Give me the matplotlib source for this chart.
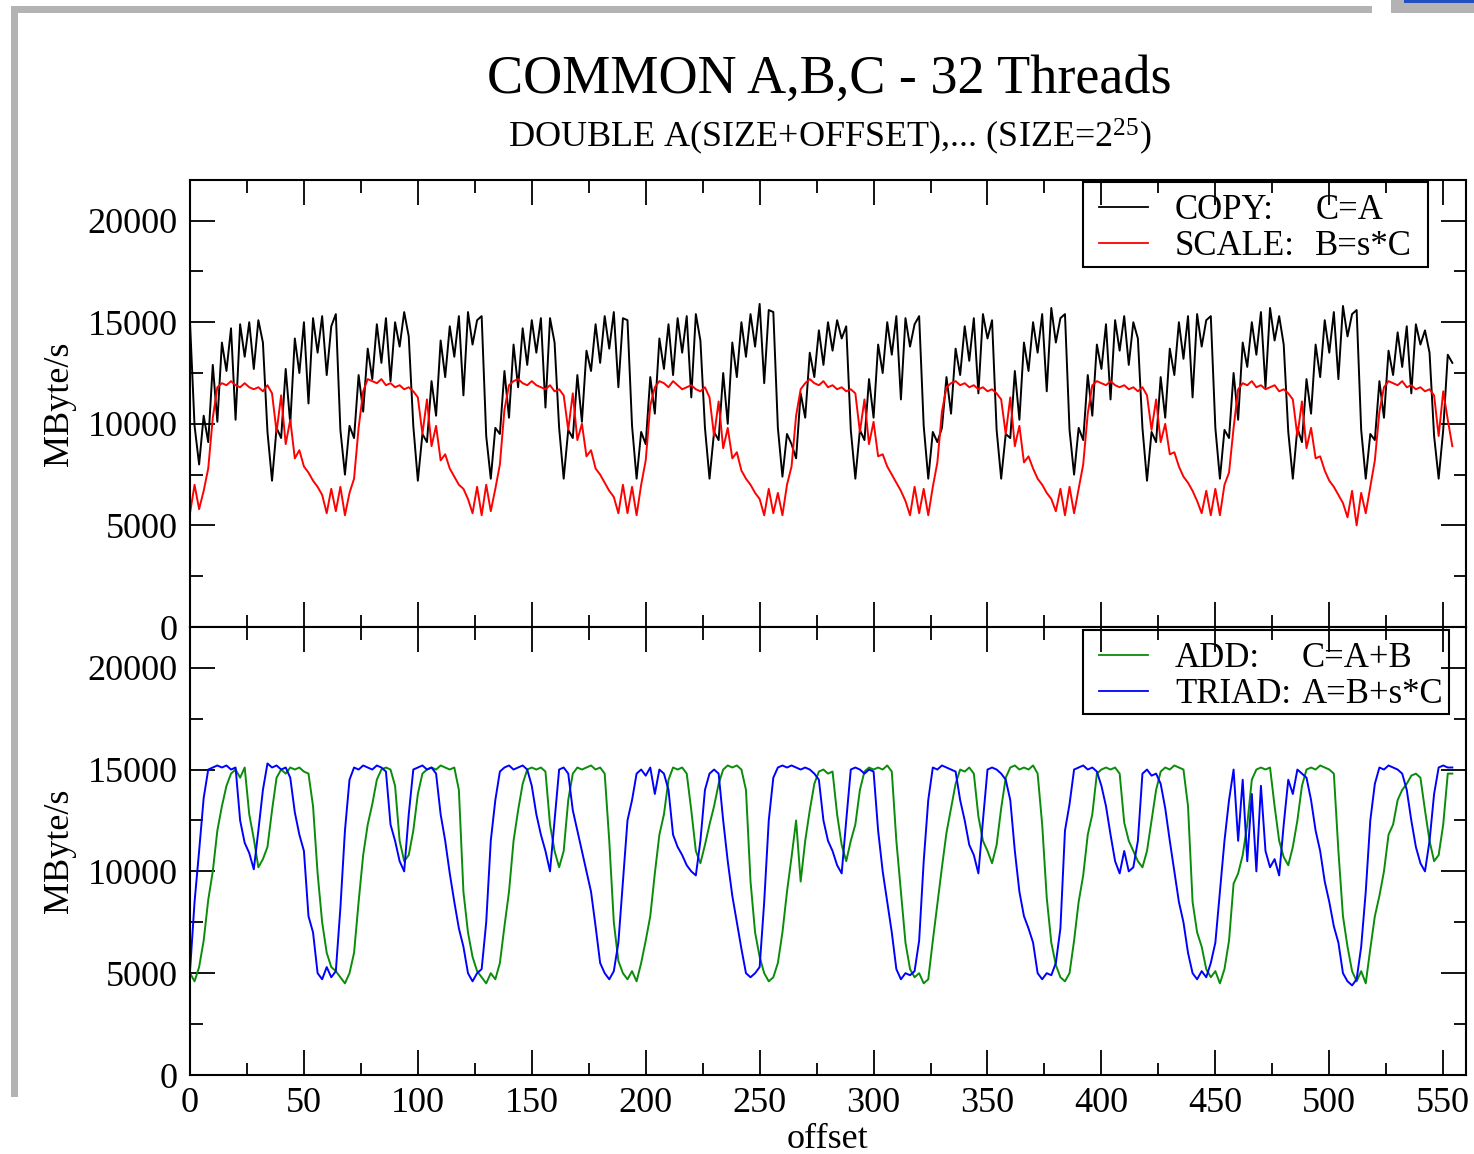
import matplotlib
matplotlib.use("Agg")
import matplotlib.pyplot as plt
from matplotlib.patches import Rectangle
from matplotlib.lines import Line2D
from matplotlib.ticker import MultipleLocator

plt.rcParams['font.family'] = ['Liberation Serif', 'DejaVu Serif']
plt.rcParams['mathtext.fontset'] = 'custom'
plt.rcParams['mathtext.rm'] = 'Liberation Serif'
plt.rcParams['mathtext.default'] = 'rm'

# bandwidth (MByte/s) at every second offset, one row per 64 offsets
offset = list(range(0, 556, 2))

copy_mbs = [
    15000, 9900, 8000, 10400, 9100, 12900, 10100, 14000, 12600, 14700, 10200, 14900, 13300, 15000, 12700, 15100,
    14000, 9600, 7200, 9800, 9300, 12700, 10000, 14200, 12500, 15000, 11000, 15200, 13500, 15300, 12400, 14800,
    15400, 9700, 7500, 9900, 9300, 12400, 10600, 13700, 12200, 14900, 13000, 15200, 12100, 15000, 13800, 15500,
    14300, 9900, 7200, 9500, 9100, 12100, 10400, 14100, 12300, 14800, 13300, 15300, 11400, 15500, 13900, 15100,
    15300, 9400, 7300, 9800, 9500, 12600, 10300, 13900, 11800, 14700, 12900, 15100, 13500, 15200, 10800, 15200,
    14000, 9800, 7300, 9700, 9300, 12400, 10100, 13600, 12600, 14900, 13000, 15300, 13700, 15500, 11800, 15200,
    15100, 9900, 7300, 9600, 9000, 12300, 10500, 14200, 12700, 14900, 12400, 15200, 13500, 15300, 11300, 15400,
    14100, 9800, 7300, 9600, 9200, 12500, 10000, 14000, 12300, 15000, 13300, 15400, 13800, 15900, 12000, 15600,
    15500, 9800, 7400, 9500, 9000, 8300, 11500, 10300, 13500, 12300, 14600, 12900, 15000, 13600, 15100, 14200,
    14800, 9700, 7300, 9700, 9200, 12200, 10300, 13900, 12500, 15000, 13400, 15300, 11200, 15200, 13800, 14900,
    15300, 9900, 7300, 9600, 9100, 9800, 12300, 10500, 13700, 12400, 14800, 13100, 15200, 11500, 15400, 14200,
    15100, 9700, 7300, 9500, 9300, 12600, 10200, 14000, 12600, 15000, 13500, 15400, 11600, 15700, 14000, 15200,
    15400, 9700, 7500, 9800, 9200, 12400, 10400, 13900, 12700, 14900, 11200, 15100, 13600, 15300, 12900, 15000,
    14200, 9800, 7200, 9600, 9100, 12300, 10300, 13700, 12400, 15000, 13200, 15300, 11300, 15400, 13800, 15100,
    15300, 9800, 7300, 9700, 9300, 12500, 10200, 14000, 12800, 15000, 13400, 15500, 11800, 15700, 14100, 15300,
    13900, 9600, 7300, 9800, 9100, 12200, 10500, 13900, 12300, 15100, 13500, 15500, 12200, 15800, 14300, 15400,
    15600, 9700, 7300, 9500, 9200, 12100, 10300, 13600, 12400, 14500, 12800, 14800, 11500, 14900, 13900, 14600,
    13500, 9400, 7300, 9700, 13400, 13000,
]

scale_mbs = [
    5600, 7000, 5800, 6700, 7800, 10300, 11800, 12000, 11900, 12100, 11900, 11800, 12000, 11800, 11700, 11800,
    11600, 11900, 11500, 9600, 11400, 9000, 10200, 8300, 8700, 7900, 7600, 7200, 6900, 6500, 5600, 6800,
    5700, 6900, 5500, 6600, 7300, 9800, 11600, 12200, 12100, 12000, 12200, 11900, 12000, 11800, 11900, 11700,
    11800, 11600, 11300, 9500, 11200, 8900, 9900, 8200, 8500, 7800, 7400, 7000, 6800, 6300, 5600, 6900,
    5500, 7000, 5700, 6800, 8000, 10700, 11900, 12100, 12200, 12000, 11900, 12100, 11900, 11800, 11700, 11900,
    11600, 11700, 11400, 9700, 11500, 9200, 10000, 8400, 8700, 7800, 7500, 7100, 6700, 6400, 5600, 7000,
    5600, 6900, 5500, 7000, 8200, 10900, 11800, 12100, 12000, 11800, 12100, 11900, 11700, 11800, 11900, 11700,
    11600, 11800, 11300, 9400, 11100, 8800, 9800, 8300, 8600, 7700, 7300, 7000, 6600, 6300, 5500, 6800,
    5600, 6600, 5500, 7000, 7900, 10400, 11700, 12000, 12200, 12000, 11900, 12100, 11800, 11900, 11700, 11800,
    11600, 11700, 11500, 9600, 11200, 9000, 10100, 8400, 8500, 7900, 7500, 7100, 6700, 6200, 5500, 6900,
    5600, 6800, 5500, 6900, 8100, 10600, 11800, 12000, 12100, 11900, 12000, 11800, 11900, 11700, 11800, 11600,
    11700, 11500, 11200, 9500, 11300, 8900, 9900, 8100, 8400, 7800, 7300, 7000, 6600, 6300, 5700, 6800,
    5500, 6900, 5600, 6800, 8000, 10500, 11900, 12100, 12000, 11900, 12100, 11900, 11800, 11900, 11700, 11800,
    11600, 11800, 11400, 9700, 11200, 9100, 10000, 8500, 8600, 7900, 7400, 7100, 6700, 6200, 5600, 6700,
    5500, 6800, 5500, 7000, 7600, 9800, 11700, 12000, 11900, 12100, 11800, 11900, 11700, 11800, 11900, 11600,
    11700, 11500, 11200, 9400, 11100, 8800, 9800, 8300, 8400, 7700, 7200, 6900, 6500, 6100, 5400, 6700,
    5000, 6600, 5600, 6900, 8200, 10600, 11800, 12100, 12000, 11900, 12100, 11800, 11900, 11700, 11800, 11600,
    11700, 11400, 9400, 11600, 10200, 8900,
]

add_mbs = [
    5000, 4600, 5300, 6600, 8600, 10000, 12000, 13200, 14200, 14800, 15000, 14600, 15100, 12800, 11600, 10200,
    10600, 11200, 13000, 14600, 15000, 14800, 15100, 15000, 15100, 14900, 14800, 13200, 9900, 7500, 6000, 5300,
    5100, 4800, 4500, 5000, 6000, 8500, 10800, 12300, 13300, 14500, 15000, 15100, 15000, 14200, 11500, 10500,
    10800, 12000, 13800, 14800, 15000, 15100, 15000, 15200, 15100, 15000, 15100, 14000, 9000, 7000, 5800, 5100,
    4800, 4500, 5000, 4700, 5500, 7300, 9000, 11500, 13000, 14300, 15000, 15100, 15000, 15100, 14900, 12300,
    11000, 10200, 11000, 13500, 14800, 15100, 15000, 15100, 15200, 15000, 15100, 14800, 11500, 7500, 5600, 5000,
    4700, 5100, 4600, 5500, 6600, 7800, 9900, 11800, 12800, 14500, 15100, 15000, 15100, 14800, 13000, 11000,
    10400, 11300, 12300, 13200, 14300, 15000, 15200, 15100, 15200, 15000, 14000, 9500, 7000, 5800, 5000, 4600,
    4800, 5500, 7000, 9000, 10700, 12500, 9500, 11500, 13000, 14300, 14900, 15000, 14800, 14900, 12800, 11300,
    10500, 11500, 12300, 14000, 14900, 15100, 15000, 15100, 15000, 15200, 14900, 11500, 9000, 6500, 5200, 4800,
    5000, 4500, 4700, 6600, 8400, 10200, 11900, 13100, 14300, 15000, 14900, 15100, 14800, 12700, 11500, 11000,
    10400, 11300, 13100, 14600, 15100, 15200, 15000, 15100, 15000, 15200, 14800, 12300, 8700, 6500, 5400, 4800,
    4600, 5000, 6600, 8500, 9800, 11800, 12800, 14800, 15000, 15100, 15000, 15100, 14800, 12400, 11500, 11000,
    10500, 10200, 11000, 12500, 14000, 14900, 15100, 15000, 15200, 15100, 15000, 13200, 8500, 7000, 6300, 5200,
    4800, 5100, 4500, 5200, 6600, 9400, 9900, 10800, 12300, 14500, 15000, 15100, 15000, 15100, 13200, 11500,
    10700, 10300, 11200, 12500, 14200, 15000, 15100, 15000, 15200, 15100, 15000, 14800, 11000, 7800, 6300, 5100,
    4600, 5100, 4500, 6200, 7800, 8800, 10000, 11800, 12300, 13500, 14000, 14300, 14700, 14800, 14600, 13000,
    11500, 10500, 10800, 12300, 14800, 14800,
]

triad_mbs = [
    5100, 8500, 11000, 13600, 15000, 15100, 15200, 15100, 15200, 15000, 15100, 12500, 11400, 10900, 10100, 12000,
    14000, 15300, 15100, 15200, 15000, 15100, 14600, 12900, 11800, 11000, 7800, 7000, 5000, 4700, 5300, 4800,
    5100, 8200, 12000, 14500, 15100, 15000, 15200, 15100, 15000, 15200, 15100, 14900, 12300, 11500, 10500, 10000,
    12800, 15000, 15100, 15200, 15000, 15100, 14800, 12800, 11500, 9900, 8500, 7200, 6300, 5000, 4600, 5000,
    5200, 7500, 11500, 13500, 14900, 15100, 15200, 15000, 15100, 15200, 15000, 14200, 12800, 11800, 11000, 10000,
    12500, 15000, 15100, 14800, 13000, 12000, 11000, 10000, 9000, 7300, 5500, 5000, 4700, 5100, 6500, 9500,
    12500, 13500, 14800, 15000, 14700, 15100, 13800, 15000, 14800, 14000, 11800, 11200, 10800, 10300, 10000, 9800,
    11500, 14000, 14800, 15000, 14800, 12500, 10500, 8800, 7500, 6200, 5000, 4800, 5000, 5300, 8500, 12500,
    14600, 15100, 15200, 15100, 15200, 15100, 15000, 15100, 15000, 14800, 14500, 12500, 11500, 11000, 10300, 9900,
    12500, 15000, 15100, 15000, 14800, 15000, 14900, 12000, 10000, 8500, 7000, 5200, 4700, 5000, 4900, 5100,
    6600, 10500, 13500, 15100, 15000, 15200, 15100, 15000, 14900, 13500, 12500, 11300, 10800, 9900, 12500, 15000,
    15100, 15000, 14800, 14500, 13500, 11000, 9000, 7800, 7200, 6500, 5000, 4700, 5000, 4900, 5500, 7200,
    12000, 13300, 15000, 15100, 15200, 15000, 15100, 14900, 14200, 13200, 11800, 10500, 9900, 11000, 10000, 10200,
    11500, 14800, 15000, 14700, 14800, 14300, 13100, 11500, 10000, 8500, 7500, 6000, 5000, 4700, 5100, 4800,
    5500, 6500, 9000, 11500, 13500, 15000, 11500, 14500, 10500, 13800, 10000, 14200, 11000, 10200, 10600, 9800,
    12300, 14500, 13800, 15000, 14800, 14600, 13500, 12000, 11000, 9500, 8500, 7300, 6500, 5000, 4600, 4400,
    4700, 6300, 9000, 12500, 14300, 15100, 15000, 15200, 15100, 15000, 14800, 14000, 12500, 11200, 10400, 10000,
    11500, 13800, 15100, 15200, 15100, 15100,
]

W, H = 1474, 1154
fig = plt.figure(figsize=(W / 100, H / 100), dpi=100)


def fx(x):
    return x / W


def fy(y):
    return 1 - y / H


# grey window frame around the plot
frame_grey = '#b3b3b3'
fig.add_artist(Rectangle((fx(11), fy(13)), fx(1372 - 11), 7 / H, transform=fig.transFigure, color=frame_grey, lw=0))
fig.add_artist(Rectangle((fx(11), fy(1097)), 7 / W, (1097 - 6) / H, transform=fig.transFigure, color=frame_grey, lw=0))
fig.add_artist(Rectangle((fx(1391), fy(13)), fx(W - 1391), 13 / H, transform=fig.transFigure, color=frame_grey, lw=0))
fig.add_artist(Rectangle((fx(1404), fy(3)), fx(W - 1404), 3 / H, transform=fig.transFigure, color='#2050c0', lw=0))

fig.text(fx(829), fy(80), 'COMMON A,B,C - 32 Threads', ha='center', va='center', fontsize=39)
fig.text(fx(830), fy(137), 'DOUBLE A(SIZE+OFFSET),... (SIZE=2$^{25}$)', ha='center', va='center', fontsize=26)

left, right = 190, 1466
ax_top = fig.add_axes([fx(left), fy(627), fx(right - left), (627 - 180) / H])
ax_bot = fig.add_axes([fx(left), fy(1075), fx(right - left), (1075 - 627) / H])


def style_axes(ax, show_x_labels):
    ax.set_xlim(0, 560)
    ax.set_ylim(0, 22000)
    ax.xaxis.set_major_locator(MultipleLocator(50))
    ax.xaxis.set_minor_locator(MultipleLocator(25))
    ax.set_yticks([0, 5000, 10000, 15000, 20000])
    ax.yaxis.set_minor_locator(MultipleLocator(2500))
    ax.tick_params(which='both', direction='in', top=True, right=True, width=1.3, labelsize=26, pad=9)
    ax.tick_params(which='major', length=18)
    ax.tick_params(which='minor', length=9)
    if not show_x_labels:
        ax.tick_params(axis='x', labelbottom=False)
    for sp in ax.spines.values():
        sp.set_linewidth(1.5)
    ax.set_ylabel('MByte/s', fontsize=26, labelpad=8)


def draw_legend(ax, box, rows, formula_x):
    x0, y0, x1, y1 = box
    ax.add_patch(Rectangle((x0, y0), x1 - x0, y1 - y0, transform=ax.transAxes,
                           fill=False, lw=1.5, ec='black', zorder=5))
    for ypos, color, name, formula in rows:
        ax.add_line(Line2D([0.712, 0.751], [ypos, ypos], transform=ax.transAxes, color=color, lw=1.3, zorder=6))
        ax.text(0.772, ypos - 0.008, name, transform=ax.transAxes, va='center', ha='left', fontsize=25, zorder=6)
        ax.text(formula_x, ypos - 0.008, formula, transform=ax.transAxes, va='center', ha='left', fontsize=25, zorder=6)


lw = 1.4
ax_top.plot(offset, copy_mbs, color='black', lw=lw)
ax_top.plot(offset, scale_mbs, color='#ff0000', lw=lw)
style_axes(ax_top, False)
draw_legend(ax_top, (0.700, 0.805, 0.970, 0.995),
            [(0.940, 'black', 'COPY:', 'C=A'),
             (0.859, '#ff0000', 'SCALE:', 'B=s*C')], 0.882)

ax_bot.plot(offset, add_mbs, color='#0a8c0a', lw=lw)
ax_bot.plot(offset, triad_mbs, color='#0000ff', lw=lw)
style_axes(ax_bot, True)
ax_bot.set_xlabel('offset', fontsize=26, labelpad=2)
draw_legend(ax_bot, (0.700, 0.806, 0.987, 0.993),
            [(0.9375, '#0a8c0a', 'ADD:', 'C=A+B'),
             (0.857, '#0000ff', 'TRIAD:', 'A=B+s*C')], 0.871)

fig.savefig('out.png', dpi=100)
